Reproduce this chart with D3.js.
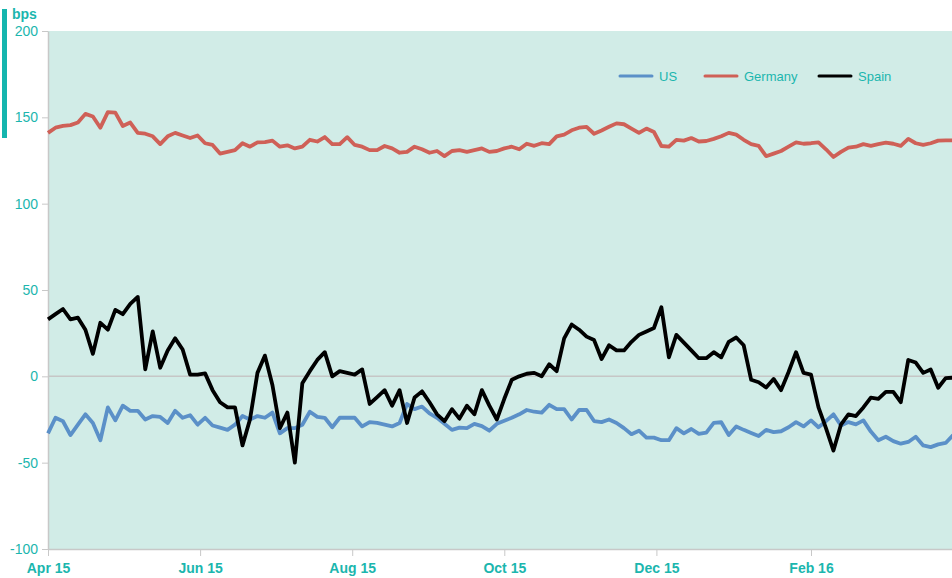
<!doctype HTML>
<html>
<head>
    <meta charset="utf-8">
    <style>
        body { margin: 0; background: white; overflow: hidden; }
        svg { display: block; font-family: "Liberation Sans", Arial, sans-serif; }
        .series { fill: none; stroke-width: 3.8px; stroke-linejoin: round; }
        .axis path, .axis line { stroke: #c8c8c8; }
        .axis text { fill: #1bb6ae; }
    </style>
    <script src="https://d3js.org/d3.v7.min.js"></script>
</head>
<body>
<script>
    var canvasWidth = 952;
    var canvasHeight = 578;

    // observation dates (every third day)
    var dates = [
        "2015-04-01","2015-04-04","2015-04-07","2015-04-10","2015-04-13","2015-04-16","2015-04-19","2015-04-22","2015-04-25","2015-04-28",
        "2015-05-01","2015-05-04","2015-05-07","2015-05-10","2015-05-13","2015-05-16","2015-05-19","2015-05-22","2015-05-25","2015-05-28","2015-05-31",
        "2015-06-03","2015-06-06","2015-06-09","2015-06-12","2015-06-15","2015-06-18","2015-06-21","2015-06-24","2015-06-27","2015-06-30",
        "2015-07-03","2015-07-06","2015-07-09","2015-07-12","2015-07-15","2015-07-18","2015-07-21","2015-07-24","2015-07-27","2015-07-30",
        "2015-08-02","2015-08-05","2015-08-08","2015-08-11","2015-08-14","2015-08-17","2015-08-20","2015-08-23","2015-08-26","2015-08-29",
        "2015-09-01","2015-09-04","2015-09-07","2015-09-10","2015-09-13","2015-09-16","2015-09-19","2015-09-22","2015-09-25","2015-09-28",
        "2015-10-01","2015-10-04","2015-10-07","2015-10-10","2015-10-13","2015-10-16","2015-10-19","2015-10-22","2015-10-25","2015-10-28","2015-10-31",
        "2015-11-03","2015-11-06","2015-11-09","2015-11-12","2015-11-15","2015-11-18","2015-11-21","2015-11-24","2015-11-27","2015-11-30",
        "2015-12-03","2015-12-06","2015-12-09","2015-12-12","2015-12-15","2015-12-18","2015-12-21","2015-12-24","2015-12-27","2015-12-30",
        "2016-01-02","2016-01-05","2016-01-08","2016-01-11","2016-01-14","2016-01-17","2016-01-20","2016-01-23","2016-01-26","2016-01-29",
        "2016-02-01","2016-02-04","2016-02-07","2016-02-10","2016-02-13","2016-02-16","2016-02-19","2016-02-22","2016-02-25","2016-02-28",
        "2016-03-02","2016-03-05","2016-03-08","2016-03-11","2016-03-14","2016-03-17","2016-03-20","2016-03-23","2016-03-26","2016-03-29"
    ];

    var us = [
        -33,-24,-26,-34,-28,-22,-27,-37,-18,-25.5,
        -17,-20,-20,-25,-23,-23.5,-27,-20,-24,-22.5,-28,
        -24,-28.5,-29.7,-31,-28,-23,-25,-23,-24,-21,
        -33,-30,-30,-28,-20.5,-23.5,-24,-29.5,-24,-24,
        -24,-29,-26.5,-27,-28,-29,-27,-16,-19,-17.5,
        -21.5,-24,-27.5,-31,-29.7,-30,-27.5,-28.8,-31.5,-27.5,
        -25.7,-24,-22,-19.5,-20.5,-21,-16.5,-19,-19,-25,-19.5,
        -19.5,-25.9,-26.5,-25,-27,-30,-33.5,-31.5,-35.5,-35.5,
        -37,-37,-30,-33,-30.5,-33.3,-32.6,-27,-26.6,-34,
        -29,-31,-32.8,-34.6,-31,-32.3,-31.8,-29.5,-26.5,-29,
        -25.5,-29.5,-26,-22,-28.5,-26.5,-27.8,-25.5,-32,-37,
        -35,-37.5,-39,-38,-35,-40,-41,-39.4,-38.6,-34
    ];

    var germany = [
        141,144,145,145.5,147,152,150.5,144,153,152.7,
        145,147,141,140.5,139,134.5,139,141,139.5,138,139.5,
        135,134,129,130,131,135,133,135.5,135.7,136.5,
        133,133.8,132,133,137,136,138.6,134.5,134.5,138.5,
        134,133,131,131,133.4,132,129.5,130,133,131.5,
        129.5,130.5,127.5,130.5,131,130,131,132,130,130.5,
        132,133,131.5,134.7,133.5,135,134.5,139,140,142.5,144,
        144.5,140.5,142.4,144.5,146.5,146,143.5,141,143.5,141.5,
        133.4,133,137,136.5,138,136,136.3,137.5,139,141,
        140,137,134.5,133.5,127.5,129,130.5,133,135.5,134.7,
        135,135.5,131.5,127,130,132.5,133,134.5,133.5,134.5,
        135.3,134.7,133.5,137.5,135,134,135,136.5,136.7,136.7
    ];

    var spain = [
        33,36,39,33,34,27,13,31,27,38.5,
        36,42,46,4,26,5,15,22,15.5,1,1,
        1.7,-8,-15,-18,-18,-40,-25,2,12,-5,
        -30,-21,-50,-4,3,9.5,14,0,3,2,
        1,4,-16,-12,-8,-17,-8,-27,-12.3,-8.7,
        -15,-22,-26,-19,-24.5,-17,-22,-8,-17,-25,
        -13,-2,0,1.5,2,0,7,3,22,30,27,
        23,21,10,18,15,15,20,24,26,28,
        40,11,24,19.5,15,10.5,10.5,14,11,20,
        22.5,18,-2,-3.4,-6.5,-1.5,-8,2.5,14,2,
        1,-18,-30,-43,-28,-22,-23,-18,-12.3,-13,
        -9,-9,-15,9.5,8,2,4,-6.6,-1,-0.8
    ];

    var seriesNames = ["US", "Germany", "Spain"];
    var seriesColors = ["#5b90c8", "#cf6057", "#000000"];
    var yTicks = [-100, -50, 0, 50, 100, 150, 200];
    var xTicks = ["2015-04-01", "2015-06-01", "2015-08-01", "2015-10-01", "2015-12-01", "2016-02-01"];

    var parse = d3.timeParse("%Y-%m-%d");
    var plotLeft = 48, plotTop = 31, plotBottom = 549;

    var svg = d3.select("body").append("svg")
        .attr("width", canvasWidth)
        .attr("height", canvasHeight);

    var xScale = d3.scaleTime()
        .domain([parse("2015-04-01"), parse("2016-03-31")])
        .range([plotLeft, plotLeft + 365 * 2.4935]);
    var yScale = d3.scaleLinear().domain([-100, 200]).range([plotBottom, plotTop]);

    // plot background
    svg.append("rect")
        .attr("x", plotLeft)
        .attr("y", plotTop)
        .attr("width", canvasWidth - plotLeft)
        .attr("height", plotBottom - plotTop)
        .attr("fill", "#d1ece7");

    // zero line
    svg.append("line")
        .attr("x1", plotLeft).attr("x2", canvasWidth)
        .attr("y1", yScale(0)).attr("y2", yScale(0))
        .attr("stroke", "#c6c6c6")
        .attr("stroke-width", 1.5);

    // y axis
    var yAxis = svg.append("g")
        .attr("class", "axis")
        .attr("transform", "translate(" + plotLeft + ",0)")
        .call(d3.axisLeft(yScale).tickValues(yTicks)
            .tickFormat(function(d) { return String(d); })
            .tickSize(6).tickPadding(4).tickSizeOuter(0));
    yAxis.selectAll("text").style("font-size", "14px");
    yAxis.select(".domain").attr("stroke-width", 1.5);

    // x axis
    var xAxis = svg.append("g")
        .attr("class", "axis")
        .attr("transform", "translate(0," + plotBottom + ")")
        .call(d3.axisBottom(xScale).tickValues(xTicks.map(parse))
            .tickFormat(d3.timeFormat("%b %y")).tickSize(7).tickPadding(7).tickSizeOuter(0));
    xAxis.selectAll("text").style("font-size", "14px").style("font-weight", "bold");
    xAxis.select(".domain").attr("stroke-width", 1.5);

    // left accent bar and unit label
    svg.append("rect")
        .attr("x", 2).attr("y", 9)
        .attr("width", 5).attr("height", 129)
        .attr("fill", "#14b5ae");
    svg.append("text")
        .attr("x", 12).attr("y", 19)
        .attr("fill", "#1bb6ae")
        .style("font-size", "14px")
        .style("font-weight", "bold")
        .text("bps");

    // lines
    var allSeries = [us, germany, spain];
    var line = d3.line()
        .x(function(d, i) { return xScale(parse(dates[i])); })
        .y(function(d) { return yScale(d); });

    svg.selectAll(".series")
        .data([germany, us, spain])
        .enter()
        .append("path")
            .attr("class", "series")
            .attr("d", line)
            .attr("stroke", function(d) { return seriesColors[allSeries.indexOf(d)]; });

    // legend
    var legendX = [620, 705, 819];
    var legend = svg.selectAll(".legend")
        .data(seriesNames)
        .enter()
        .append("g")
            .attr("class", "legend")
            .attr("transform", function(d, i) { return "translate(" + legendX[i] + ",76)"; });
    legend.append("line")
        .attr("x1", 0).attr("x2", 32)
        .attr("stroke", function(d, i) { return seriesColors[i]; })
        .attr("stroke-width", 3)
        .attr("stroke-linecap", "round");
    legend.append("text")
        .attr("x", 39)
        .attr("y", 5)
        .attr("fill", "#1bb6ae")
        .style("font-size", "13px")
        .text(function(d) { return d; });
</script>
</body>
</html>
